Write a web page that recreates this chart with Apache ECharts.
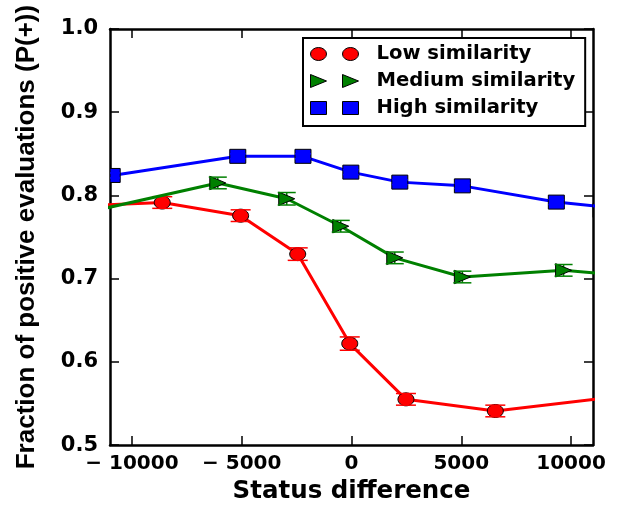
<!DOCTYPE html>
<html>
<head>
<meta charset="utf-8">
<script src="https://cdn.jsdelivr.net/npm/echarts@6/dist/echarts.min.js"></script>
<style>html,body{margin:0;padding:0;background:#fff}#c{width:617px;height:509px}</style>
</head>
<body>
<div id="c"></div>
<script>
// ---- data ----
const seriesNames = ['Low similarity', 'Medium similarity', 'High similarity'];
const lowX  = [-13000, -8620, -5050, -2450, -80, 2480, 6550, 13000];
const lowY  = [0.787, 0.7915, 0.7757, 0.7295, 0.622, 0.555, 0.541, 0.561];
const lowErr = [0.007, 0.007, 0.007, 0.0075, 0.008, 0.007, 0.007, 0.007];
const medX  = [-12500, -6090, -2950, -490, 1970, 5050, 9660, 12500];
const medY  = [0.777, 0.815, 0.796, 0.763, 0.725, 0.702, 0.710, 0.7036];
const medErr = [0.007, 0.007, 0.0075, 0.007, 0.007, 0.007, 0.007, 0.007];
const highX = [-10900, -5180, -2210, -30, 2200, 5050, 9330, 13000];
const highY = [0.824, 0.847, 0.847, 0.828, 0.816, 0.8115, 0.792, 0.782];
const highErr = [0.003, 0.003, 0.003, 0.003, 0.003, 0.003, 0.003, 0.003];
const xTicks = [-10000, -5000, 0, 5000, 10000];
const xMin = -11000, xMax = 11000;
const yMin = 0.5, yMax = 1.0, yStep = 0.1;

const colors = ['#ff0000', '#008000', '#0000ff'];
const FONT = 'DejaVu Sans';

function pairs(xs, ys) { return xs.map((x, i) => [x, ys[i]]); }
function triples(xs, ys, es) { return xs.map((x, i) => [x, ys[i], es[i]]); }

function markerSeries(name, data, color, shape, capHalf, z) {
  return {
    type: 'custom', name: name, data: data, clip: true, z: z,
    encode: { x: 0, y: 1 },
    renderItem: function (params, api) {
      const x = api.value(0), y = api.value(1), e = api.value(2);
      const c = api.coord([x, y]);
      const t = api.coord([x, y + e]);
      const b = api.coord([x, y - e]);
      const cs = params.coordSys;
      const left = cs.x, right = cs.x + cs.width;
      let marker;
      const st = { fill: color, stroke: '#000', lineWidth: 1 };
      if (shape === 'circle') {
        marker = { type: 'ellipse', shape: { cx: c[0], cy: c[1], rx: 8, ry: 6.5 }, style: st };
      } else if (shape === 'square') {
        const x0 = Math.max(c[0] - 8, left), x1 = Math.min(c[0] + 8, right);
        marker = { type: 'rect', shape: { x: x0, y: c[1] - 7, width: x1 - x0, height: 14 }, style: st };
      } else {
        marker = { type: 'polygon', shape: { points: [[c[0] - 8, c[1] - 6.7], [c[0] + 8, c[1]], [c[0] - 8, c[1] + 6.7]] }, style: st };
      }
      const ls = { stroke: color, lineWidth: 1.5 };
      return {
        type: 'group',
        children: [
          { type: 'line', shape: { x1: c[0], y1: t[1], x2: c[0], y2: b[1] }, style: ls },
          marker,
          { type: 'line', shape: { x1: Math.max(c[0] - capHalf, left), y1: t[1], x2: Math.min(c[0] + capHalf, right), y2: t[1] }, style: ls },
          { type: 'line', shape: { x1: Math.max(c[0] - capHalf, left), y1: b[1], x2: Math.min(c[0] + capHalf, right), y2: b[1] }, style: ls }
        ]
      };
    }
  };
}

function lineSeries(name, data, color, z) {
  return {
    type: 'line', name: name, data: data, showSymbol: false, clip: true, z: z,
    color: color, lineStyle: { color: color, width: 3 }, itemStyle: { color: color },
    animation: false
  };
}

const axisLineStyle = { color: '#000', width: 2.5 };
const tickStyle = { color: '#000', width: 1.5 };
const labelFont = { fontFamily: FONT, fontWeight: 'bold', fontSize: 21, color: '#000' };

const icons = [
  'path://M0,6.5A8,6.5,0,1,1,16,6.5A8,6.5,0,1,1,0,6.5ZM32,6.5A8,6.5,0,1,1,48,6.5A8,6.5,0,1,1,32,6.5Z',
  'path://M0,0L16,6.5L0,13ZM32,0L48,6.5L32,13Z',
  'path://M0,0H16V13H0ZM32,0H48V13H32Z'
];

const chart = echarts.init(document.getElementById('c'), null, { renderer: 'canvas' });
chart.setOption({
  animation: false,
  backgroundColor: '#fff',
  grid: { left: 110, right: 24, top: 29, bottom: 63, containLabel: false },
  legend: {
    orient: 'vertical', left: 303, top: 38,
    padding: [6, 10, 8, 7],
    itemWidth: 48, itemHeight: 13, itemGap: 7,
    backgroundColor: '#fff', borderColor: '#000', borderWidth: 2, borderRadius: 0,
    selectedMode: false,
    itemStyle: { borderColor: '#000', borderWidth: 1 },
    textStyle: { fontFamily: FONT, fontWeight: 'bold', fontSize: 19.6, color: '#000', lineHeight: 20, padding: [0, 0, 0, 13] },
    data: seriesNames.map((n, i) => ({ name: n, icon: icons[i] }))
  },
  xAxis: [
    {
      type: 'value', position: 'bottom', min: xMin, max: xMax,
      axisLine: { show: true, onZero: false, lineStyle: axisLineStyle },
      axisTick: { show: true, inside: true, length: 9, customValues: xTicks, lineStyle: tickStyle },
      axisLabel: Object.assign({ customValues: xTicks, margin: 9,
        formatter: v => v < 0 ? '\u2212 ' + Math.abs(v) : String(v) }, labelFont, { fontSize: 20 }),
      splitLine: { show: false },
      name: 'Status difference', nameLocation: 'middle', nameGap: 30,
      nameTextStyle: { fontFamily: FONT, fontWeight: 'bold', fontSize: 24.5, color: '#000' }
    },
    {
      type: 'value', position: 'top', min: xMin, max: xMax,
      axisLine: { show: true, onZero: false, lineStyle: axisLineStyle },
      axisTick: { show: true, inside: true, length: 9, customValues: xTicks, lineStyle: tickStyle },
      axisLabel: { show: false }, splitLine: { show: false }
    }
  ],
  yAxis: [
    {
      type: 'value', position: 'left', min: yMin, max: yMax, interval: yStep,
      axisLine: { show: true, onZero: false, lineStyle: axisLineStyle },
      axisTick: { show: true, inside: true, length: 9, lineStyle: tickStyle },
      axisLabel: Object.assign({ margin: 12, formatter: v => v.toFixed(1) }, labelFont),
      splitLine: { show: false },
      name: 'Fraction of positive evaluations (P(+))', nameLocation: 'middle', nameGap: 70,
      nameTextStyle: { fontFamily: 'Liberation Sans', fontWeight: 'bold', fontSize: 26, color: '#000' }
    },
    {
      type: 'value', position: 'right', min: yMin, max: yMax, interval: yStep,
      axisLine: { show: true, onZero: false, lineStyle: axisLineStyle },
      axisTick: { show: true, inside: true, length: 9, lineStyle: tickStyle },
      axisLabel: { show: false }, splitLine: { show: false }
    }
  ],
  series: [
    lineSeries(seriesNames[0], pairs(lowX, lowY), colors[0], 2),
    markerSeries(seriesNames[0], triples(lowX, lowY, lowErr), colors[0], 'circle', 10, 3),
    lineSeries(seriesNames[1], pairs(medX, medY), colors[1], 4),
    markerSeries(seriesNames[1], triples(medX, medY, medErr), colors[1], 'triangle', 9, 5),
    lineSeries(seriesNames[2], pairs(highX, highY), colors[2], 6),
    markerSeries(seriesNames[2], triples(highX, highY, highErr), colors[2], 'square', 8, 7)
  ]
});
</script>
</body>
</html>
